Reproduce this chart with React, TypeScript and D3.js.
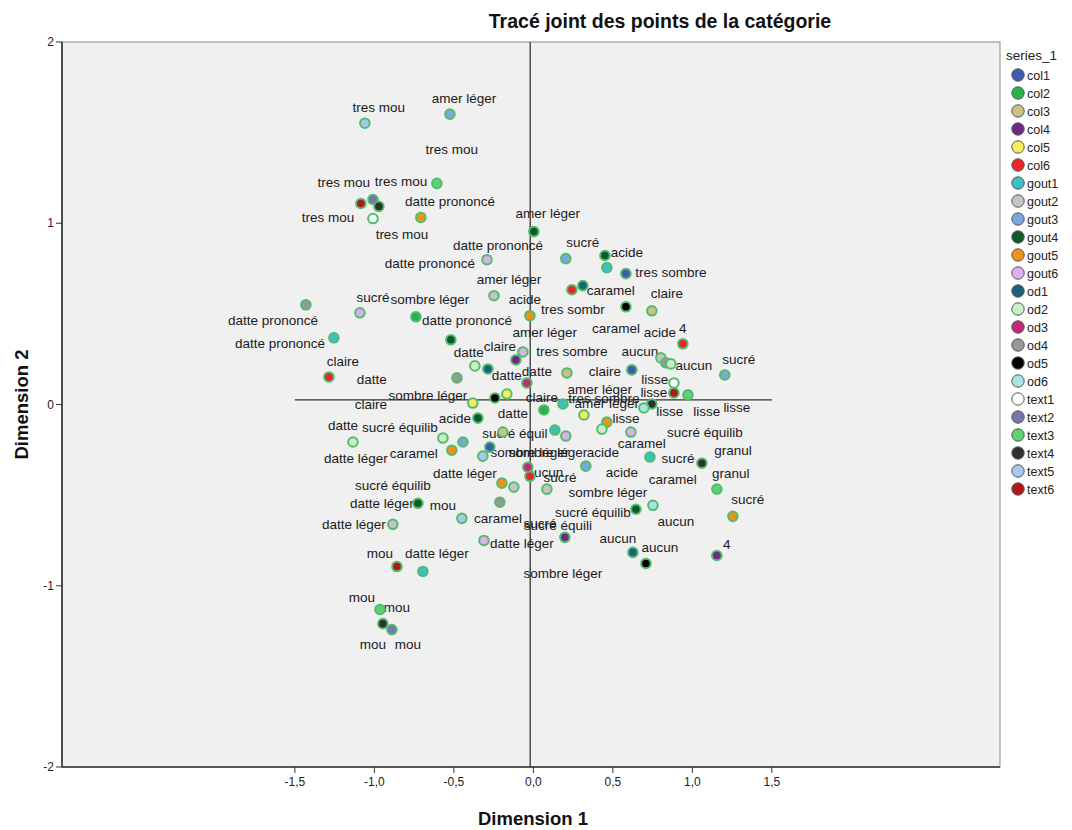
import React, { useEffect, useRef } from "react";
import * as d3 from "d3";

// Legend entries (variable names) and their point fill colours
const seriesNames = [
  "col1", "col2", "col3", "col4", "col5", "col6",
  "gout1", "gout2", "gout3", "gout4", "gout5", "gout6",
  "od1", "od2", "od3", "od4", "od5", "od6",
  "text1", "text2", "text3", "text4", "text5", "text6",
];
const seriesColors = [
  "#3f5ba9", "#2bb24c", "#c9c08a", "#6e2a82", "#f4ee5a", "#e8262a",
  "#3ec0c0", "#c4c4c4", "#78a8dc", "#0e5a2c", "#f0921a", "#dcb0ec",
  "#1b6378", "#c8f0c4", "#c02a78", "#989898", "#000000", "#a8e4e4",
  "#ffffff", "#7478a8", "#60d070", "#303030", "#a8c8ec", "#b01a1a",
];

// Category points: [variable, dimension 1, dimension 2]
const points: [string, number, number][] = [
  ["text5", -1.06, 1.552], ["gout3", -0.525, 1.602], ["text3", -0.607, 1.22],
  ["text6", -1.085, 1.109], ["text2", -1.009, 1.131], ["text4", -0.972, 1.093],
  ["text1", -1.009, 1.026], ["gout5", -0.708, 1.032], ["gout4", 0.003, 0.954],
  ["gout6", -0.292, 0.799], ["gout2", -0.248, 0.6], ["od4", -1.431, 0.55],
  ["gout6", -1.091, 0.506], ["col2", -0.739, 0.484], ["gout1", -1.255, 0.368],
  ["gout4", -0.519, 0.357], ["col6", -1.286, 0.152], ["od4", -0.481, 0.147],
  ["od2", -0.368, 0.213], ["od1", -0.286, 0.196], ["gout6", -0.066, 0.29],
  ["col4", -0.11, 0.246], ["od3", -0.041, 0.119], ["od5", -0.242, 0.036],
  ["col5", -0.167, 0.058], ["col5", -0.381, 0.008], ["gout4", -0.349, -0.075],
  ["gout3", 0.204, 0.805], ["gout4", 0.45, 0.822], ["gout1", 0.462, 0.755],
  ["col1", 0.582, 0.722], ["col6", 0.242, 0.633], ["od1", 0.311, 0.656],
  ["od5", 0.582, 0.539], ["col3", 0.745, 0.517], ["gout5", -0.022, 0.49],
  ["col6", 0.94, 0.335], ["gout2", 0.802, 0.257], ["od4", 0.833, 0.23],
  ["od2", 0.865, 0.224], ["gout3", 1.204, 0.163], ["col1", 0.619, 0.191],
  ["col3", 0.211, 0.174], ["text1", 0.884, 0.119], ["text6", 0.884, 0.064],
  ["text3", 0.972, 0.053], ["gout1", 0.186, 0.003], ["col2", 0.066, -0.03],
  ["text4", 0.745, 0.003], ["od6", 0.695, -0.019], ["od2", -1.135, -0.207],
  ["od2", -0.569, -0.185], ["gout5", -0.513, -0.252], ["gout3", -0.443, -0.207],
  ["col1", -0.274, -0.235], ["text5", -0.318, -0.285], ["col3", -0.192, -0.152],
  ["gout1", 0.135, -0.141], ["gout6", 0.204, -0.174], ["od3", -0.035, -0.346],
  ["col6", -0.022, -0.396], ["gout5", -0.198, -0.434], ["gout2", -0.123, -0.456],
  ["gout2", 0.085, -0.467], ["gout4", -0.726, -0.545], ["od4", -0.211, -0.539],
  ["gout2", -0.884, -0.661], ["text5", -0.45, -0.628], ["gout6", -0.311, -0.75],
  ["col5", 0.318, -0.058], ["gout5", 0.462, -0.097], ["od2", 0.431, -0.136],
  ["gout6", 0.613, -0.152], ["gout1", 0.733, -0.29], ["text4", 1.06, -0.324],
  ["gout3", 0.33, -0.34], ["text3", 1.154, -0.467], ["od6", 0.752, -0.556],
  ["gout4", 0.645, -0.578], ["gout5", 1.255, -0.617], ["col4", 0.198, -0.733],
  ["od1", 0.626, -0.816], ["od5", 0.708, -0.877], ["col4", 1.154, -0.833],
  ["text6", -0.858, -0.894], ["gout1", -0.695, -0.921], ["text3", -0.965, -1.131],
  ["text4", -0.947, -1.209], ["text2", -0.89, -1.242],
];

// Category labels: [text, dimension 1, dimension 2] where each name is written
const labels: [string, number, number][] = [
  ["tres mou", -0.972, 1.64], ["amer léger", -0.437, 1.69], ["tres mou", -0.513, 1.408],
  ["tres mou", -1.192, 1.226], ["tres mou", -0.833, 1.231], ["datte prononcé", -0.525, 1.12],
  ["tres mou", -1.292, 1.032], ["tres mou", -0.827, 0.938], ["amer léger", 0.091, 1.054],
  ["datte prononcé", -0.223, 0.88], ["sucré", 0.311, 0.893], ["acide", 0.588, 0.838],
  ["tres sombre", 0.865, 0.727], ["datte prononcé", -0.651, 0.777], ["caramel", 0.487, 0.628],
  ["claire", 0.84, 0.611], ["amer léger", -0.154, 0.689], ["acide", -0.053, 0.578],
  ["tres sombr", 0.248, 0.523], ["sucré", -1.009, 0.589], ["sombre léger", -0.651, 0.578],
  ["datte prononcé", -1.638, 0.467], ["datte prononcé", -0.418, 0.467],
  ["datte prononcé", -1.594, 0.34], ["amer léger", 0.072, 0.401], ["caramel", 0.519, 0.423],
  ["acide", 0.796, 0.401], ["4", 0.94, 0.423], ["datte", -0.406, 0.29],
  ["claire", -0.211, 0.324], ["tres sombre", 0.242, 0.296], ["aucun", 0.67, 0.296],
  ["claire", -1.198, 0.241], ["sucré", 1.292, 0.252], ["aucun", 1.009, 0.219],
  ["datte", -1.016, 0.141], ["datte", -0.167, 0.163], ["datte", 0.022, 0.185],
  ["claire", 0.45, 0.185], ["lisse", 0.764, 0.141], ["lisse", 0.758, 0.069],
  ["sombre léger", -0.664, 0.053], ["claire", -1.022, 0.003], ["claire", 0.053, 0.041],
  ["amer léger", 0.418, 0.086], ["tres sombre", 0.443, 0.036], ["amer léger", 0.462, 0.008],
  ["lisse", 0.858, -0.036], ["lisse", 1.091, -0.036], ["lisse", 1.28, -0.014],
  ["acide", -0.494, -0.075], ["datte", -0.129, -0.047], ["datte", -1.198, -0.113],
  ["sucré équilib", -0.84, -0.124], ["sucré équil", -0.116, -0.158], ["lisse", 0.582, -0.075],
  ["sucré équilib", 1.079, -0.152], ["datte léger", -1.116, -0.296], ["caramel", -0.752, -0.268],
  ["sombre léger", -0.022, -0.263], ["sombre léger", 0.091, -0.263], ["acide", 0.437, -0.263],
  ["caramel", 0.682, -0.213], ["datte léger", -0.431, -0.379], ["aucun", 0.072, -0.373],
  ["sucré", 0.167, -0.401], ["sucré", 0.909, -0.296], ["granul", 1.255, -0.252],
  ["acide", 0.557, -0.373], ["caramel", 0.877, -0.412], ["granul", 1.242, -0.379],
  ["sucré équilib", -0.884, -0.445], ["sombre léger", 0.469, -0.484], ["sucré", 1.349, -0.523],
  ["datte léger", -0.953, -0.545], ["mou", -0.569, -0.556], ["caramel", -0.223, -0.628],
  ["sucré", 0.041, -0.656], ["sucré équilib", 0.374, -0.595], ["datte léger", -1.129, -0.661],
  ["aucun", 0.896, -0.645], ["sucré équili", 0.154, -0.667], ["datte léger", -0.072, -0.766],
  ["aucun", 0.531, -0.739], ["aucun", 0.796, -0.788], ["4", 1.217, -0.771],
  ["mou", -0.965, -0.822], ["datte léger", -0.607, -0.822], ["sombre léger", 0.186, -0.932],
  ["mou", -1.079, -1.065], ["mou", -0.858, -1.12], ["mou", -1.009, -1.325],
  ["mou", -0.789, -1.325],
];

const xTicks = [-1.5, -1.0, -0.5, 0.0, 0.5, 1.0, 1.5];
const yTicks = [-2, -1, 0, 1, 2];
const xDomain: [number, number] = [-2.965, 2.935];
const yDomain: [number, number] = [-2, 2];
// Origin reference lines drawn inside the plot
const refLineX = -0.02;
const refLineY = 0.025;
const refSpanX: [number, number] = [-1.5, 1.5];

const W = 1072;
const H = 830;
const FONT = "'Liberation Sans', Arial, sans-serif";

export default function App() {
  const ref = useRef<SVGSVGElement | null>(null);

  useEffect(() => {
    const svg = d3.select(ref.current);
    svg.selectAll("*").remove();

    const left = 62, right = 1000, top = 42, bottom = 767;
    const x = d3.scaleLinear().domain(xDomain).range([left, right]);
    const y = d3.scaleLinear().domain(yDomain).range([bottom, top]);
    const color = d3.scaleOrdinal<string, string>().domain(seriesNames).range(seriesColors);

    svg.append("rect").attr("width", W).attr("height", H).attr("fill", "#ffffff");

    // Title
    svg.append("text")
      .attr("x", 660).attr("y", 28)
      .attr("text-anchor", "middle")
      .attr("font-family", FONT).attr("font-size", 19.5).attr("font-weight", "bold")
      .attr("fill", "#111")
      .text("Tracé joint des points de la catégorie");

    // Plot frame
    svg.append("rect")
      .attr("x", left).attr("y", top)
      .attr("width", right - left).attr("height", bottom - top)
      .attr("fill", "#f0f0f0").attr("stroke", "#8a8a8a").attr("stroke-width", 1);
    svg.append("line").attr("x1", left).attr("x2", left).attr("y1", top).attr("y2", bottom)
      .attr("stroke", "#333").attr("stroke-width", 1.6);
    svg.append("line").attr("x1", left).attr("x2", right).attr("y1", bottom).attr("y2", bottom)
      .attr("stroke", "#333").attr("stroke-width", 1.6);

    // Axes ticks and labels
    const xAxis = svg.append("g");
    xTicks.forEach((t) => {
      xAxis.append("line").attr("x1", x(t)).attr("x2", x(t)).attr("y1", bottom).attr("y2", bottom + 6)
        .attr("stroke", "#333").attr("stroke-width", 1);
      xAxis.append("text").attr("x", x(t)).attr("y", bottom + 19)
        .attr("text-anchor", "middle").attr("font-family", FONT).attr("font-size", 12)
        .attr("fill", "#222").text(d3.format(".1f")(t).replace(".", ",").replace("−", "-"));
    });
    const yAxis = svg.append("g");
    yTicks.forEach((t) => {
      yAxis.append("line").attr("x1", left - 6).attr("x2", left).attr("y1", y(t)).attr("y2", y(t))
        .attr("stroke", "#333").attr("stroke-width", 1);
      yAxis.append("text").attr("x", left - 8).attr("y", y(t) + 4)
        .attr("text-anchor", "end").attr("font-family", FONT).attr("font-size", 12)
        .attr("fill", "#222").text(String(t));
    });

    svg.append("text").attr("x", 533).attr("y", 825).attr("text-anchor", "middle")
      .attr("font-family", FONT).attr("font-size", 18.5).attr("font-weight", "bold")
      .attr("fill", "#111").text("Dimension 1");
    svg.append("text").attr("transform", `translate(28,${y(0)}) rotate(-90)`)
      .attr("text-anchor", "middle")
      .attr("font-family", FONT).attr("font-size", 18.5).attr("font-weight", "bold")
      .attr("fill", "#111").text("Dimension 2");

    // Reference lines
    svg.append("line").attr("x1", x(refLineX)).attr("x2", x(refLineX)).attr("y1", top).attr("y2", bottom)
      .attr("stroke", "#333").attr("stroke-width", 1.3);
    svg.append("line").attr("x1", x(refSpanX[0])).attr("x2", x(refSpanX[1]))
      .attr("y1", y(refLineY)).attr("y2", y(refLineY))
      .attr("stroke", "#333").attr("stroke-width", 1.3);

    // Category labels
    svg.append("g").selectAll("text").data(labels).join("text")
      .attr("x", (d) => x(d[1])).attr("y", (d) => y(d[2]))
      .attr("dy", "0.35em")
      .attr("text-anchor", "middle")
      .attr("font-family", FONT).attr("font-size", 13.5)
      .attr("fill", "#1a1a1a")
      .text((d) => d[0]);

    // Category points
    svg.append("g").selectAll("circle").data(points).join("circle")
      .attr("cx", (d) => x(d[1])).attr("cy", (d) => y(d[2]))
      .attr("r", 4.8)
      .attr("fill", (d) => color(d[0]))
      .attr("stroke", "#52bb6c").attr("stroke-width", 2);

    // Legend
    const lg = svg.append("g");
    lg.append("text").attr("x", 1006).attr("y", 60)
      .attr("font-family", FONT).attr("font-size", 13.5).attr("fill", "#222").text("series_1");
    seriesNames.forEach((s, i) => {
      const cy = 75 + i * 18;
      lg.append("circle").attr("cx", 1018).attr("cy", cy).attr("r", 6.2)
        .attr("fill", color(s)).attr("stroke", "#555").attr("stroke-width", 1);
      lg.append("text").attr("x", 1027).attr("y", cy + 4.5)
        .attr("font-family", FONT).attr("font-size", 12.5).attr("fill", "#222").text(s);
    });
  }, []);

  return (
    <svg
      ref={ref}
      width={W}
      height={H}
      style={{ position: "absolute", left: 0, top: 0, display: "block" }}
    />
  );
}
